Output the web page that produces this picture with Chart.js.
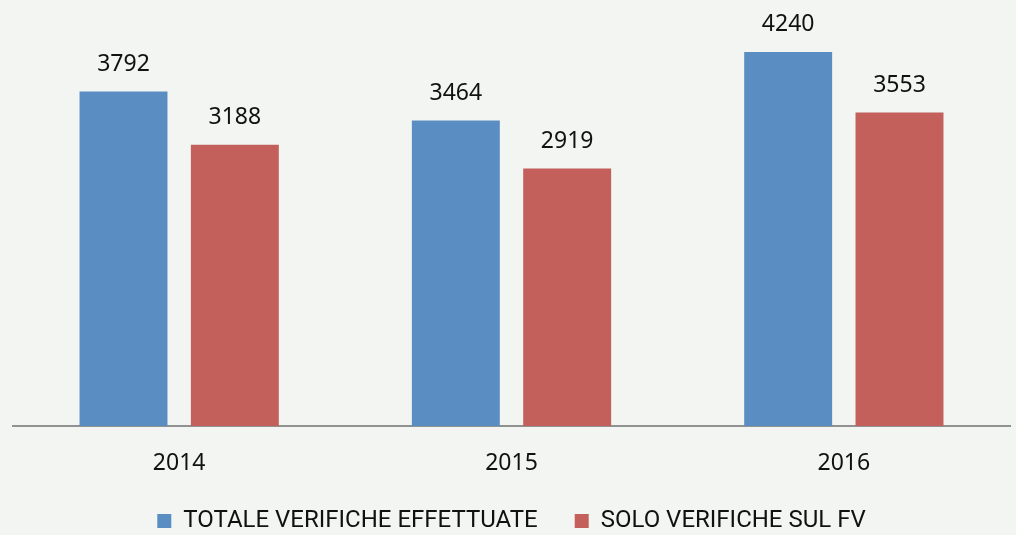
<!DOCTYPE html>
<html>
<head>
<meta charset="utf-8">
<script src="https://cdn.jsdelivr.net/npm/chart.js@4"></script>
<style>
  html, body { margin: 0; padding: 0; background: #f2f5f2; }
  #wrap { width: 1016px; height: 535px; }
</style>
</head>
<body>
<div id="wrap"><canvas id="barChart"></canvas></div>
<script>
// Chart data
const years = ['2014', '2015', '2016'];
const seriesNames = ['TOTALE VERIFICHE EFFETTUATE', 'SOLO VERIFICHE SUL FV'];
const totaleVerifiche = [3792, 3464, 4240];
const soloVerificheFV = [3188, 2919, 3553];

// Draw value labels above each bar
const valueLabels = {
    id: 'valueLabels',
    afterDatasetsDraw(chart) {
        const ctx = chart.ctx;
        ctx.save();
        ctx.font = "23px 'Noto Sans'";
        ctx.fillStyle = '#111';
        ctx.textAlign = 'center';
        ctx.textBaseline = 'middle';
        chart.data.datasets.forEach(function(ds, i) {
            chart.getDatasetMeta(i).data.forEach(function(bar, j) {
                ctx.fillText(ds.data[j], bar.x, bar.y - 27);
            });
        });
        ctx.restore();
    }
};

const ctx = document.getElementById('barChart').getContext('2d');
const barChart = new Chart(ctx, {
    type: 'bar',
    data: {
        labels: years,
        datasets: [
            {
                label: seriesNames[0],
                data: totaleVerifiche,
                backgroundColor: '#5a8ec2',
                categoryPercentage: 0.67,
                barPercentage: 0.79
            },
            {
                label: seriesNames[1],
                data: soloVerificheFV,
                backgroundColor: '#c4605b',
                categoryPercentage: 0.67,
                barPercentage: 0.79
            }
        ]
    },
    options: {
        responsive: true,
        maintainAspectRatio: false,
        animation: false,
        layout: {
            padding: { top: 29, left: 13, right: 6, bottom: -8 }
        },
        plugins: {
            tooltip: { enabled: false },
            legend: {
                position: 'bottom',
                labels: {
                    font: { family: "Roboto", size: 24, lineHeight: 1 },
                    color: '#111',
                    boxWidth: 14,
                    boxHeight: 14,
                    padding: 37
                }
            }
        },
        scales: {
            x: {
                grid: { display: false, drawTicks: false },
                border: { display: true, color: '#8f9290', width: 2 },
                ticks: {
                    font: { family: "'Noto Sans'", size: 23, lineHeight: 1 },
                    color: '#111',
                    padding: 25.5
                },
                afterFit: function(scale) {
                    // tick labels sit low; keep the axis box compact
                    scale.height = 46;
                }
            },
            y: {
                display: false,
                min: 0,
                max: 4500
            }
        }
    },
    plugins: [valueLabels]
});
</script>
</body>
</html>
